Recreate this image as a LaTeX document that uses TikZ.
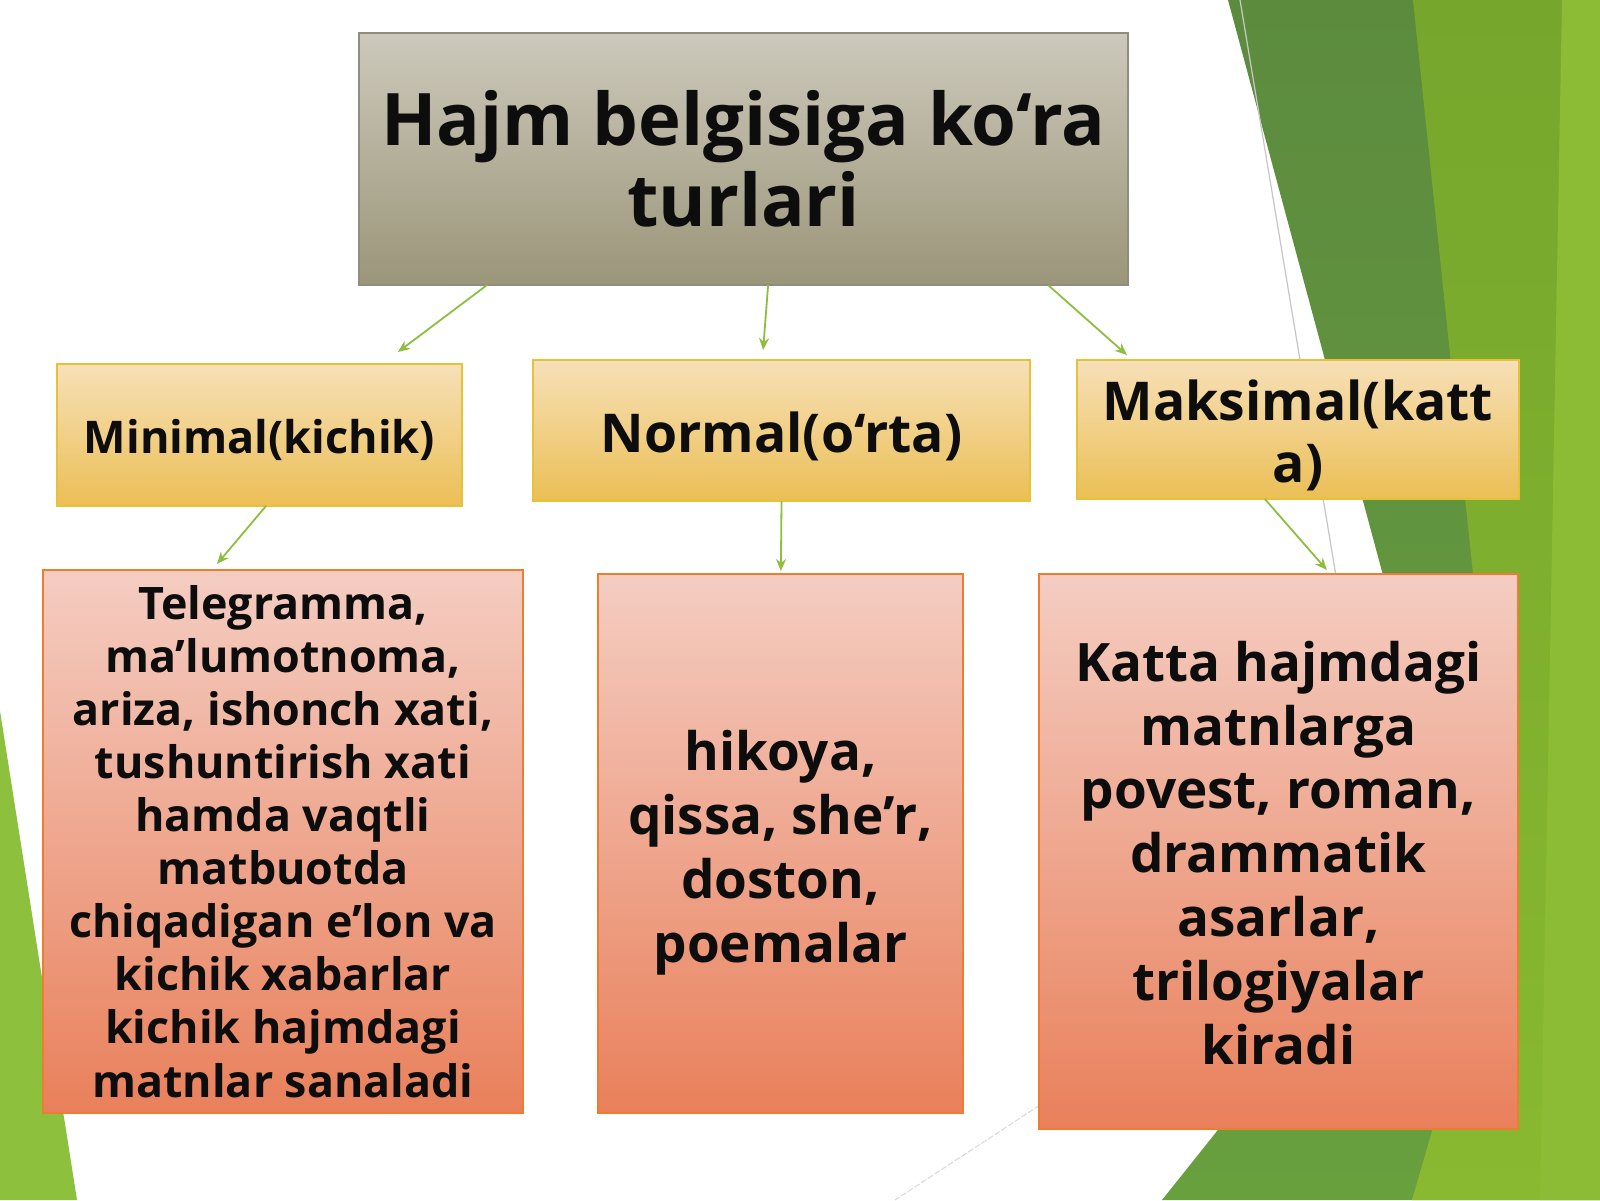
\documentclass[tikz,border=0pt]{standalone}
\usepackage{fontspec}
\IfFontExistsTF{Open Sans Bold}{\setmainfont{Open Sans}[BoldFont={Open Sans Bold}]}{%
  \IfFontExistsTF{OpenSans-Bold}{\setmainfont{Open Sans}[BoldFont={OpenSans-Bold}]}{%
    \setmainfont{DejaVu Sans}}}
\usetikzlibrary{arrows.meta,calc}
\definecolor{titletop}{HTML}{CDC9BB}
\definecolor{titlebot}{HTML}{9B9579}
\definecolor{titleborder}{HTML}{8E8D80}
\definecolor{goldtop}{HTML}{F7E0B8}
\definecolor{goldbot}{HTML}{EBBF55}
\definecolor{goldborder}{HTML}{E6C23A}
\definecolor{redtop}{HTML}{F4CDC2}
\definecolor{redbot}{HTML}{E9805B}
\definecolor{redborder}{HTML}{ED7D31}
\definecolor{arrowgreen}{HTML}{8CBF3F}
\definecolor{gdark}{HTML}{5C8B3E}
\definecolor{gdarkb}{HTML}{68A03E}
\definecolor{gmid}{HTML}{76A62C}
\definecolor{gmidb}{HTML}{88B930}
\definecolor{glight}{HTML}{8CBC36}
\definecolor{gleft}{HTML}{8DC03C}
\definecolor{ink}{HTML}{0D0D0D}
\tikzset{
  box/.style={inner sep=0pt, outer sep=0pt, anchor=north west},
  titlebox/.style={box, draw=titleborder, line width=1.5pt, top color=titletop, bottom color=titlebot},
  goldbox/.style={box, draw=goldborder, line width=2pt, top color=goldtop, bottom color=goldbot},
  redbox/.style={box, draw=redborder, line width=2pt, top color=redtop, bottom color=redbot},
  label/.style={anchor=base, align=center, inner sep=0pt, text=ink},
  arr/.style={draw=arrowgreen, line width=1.8pt, -{Stealth[length=12pt,width=10pt]}},
}
\begin{document}
\begin{tikzpicture}[x=1pt,y=-1pt]
\useasboundingbox (0,0) rectangle (1600,1200);
\fill[white] (0,0) rectangle (1600,1200);
% background green shapes
\shade[top color=gdark, bottom color=gdarkb] (1228,0) -- (1600,0) -- (1600,1200) -- (1162,1200) -- (1453,835) -- cycle;
\shade[top color=gmid, bottom color=gmidb] (1413,0) -- (1600,0) -- (1600,1200) -- (1412,1200) -- (1505,880) -- cycle;
\fill[glight] (1562,0) -- (1600,0) -- (1600,1200) -- (1540,1200) -- cycle;
\fill[gleft] (0,711) -- (77,1200) -- (0,1200) -- cycle;
\draw[black!22, line width=1.2pt] (1240,0) -- (1340,600);
\draw[black!15, line width=1pt, dash pattern=on 6pt off 2pt] (1040,1105) -- (895,1200);
% boxes
\node[titlebox, minimum width=769pt, minimum height=252pt] (title) at (359,33) {};
\node[goldbox, minimum width=405pt, minimum height=142pt] (minimal) at (57,364) {};
\node[goldbox, minimum width=497pt, minimum height=141pt] (normal) at (533,360) {};
\node[goldbox, minimum width=442pt, minimum height=139pt] (maks) at (1077,360) {};
\node[redbox, minimum width=480pt, minimum height=543pt] (tele) at (43,570) {};
\node[redbox, minimum width=365pt, minimum height=539pt] (mid) at (598,574) {};
\node[redbox, minimum width=479pt, minimum height=555pt] (katta) at (1039,574) {};
% texts (anchor = baseline of the last line)
\node[label, font=\fontsize{72.5}{81}\selectfont\bfseries] (titletext) at (743.5,226) {Hajm belgisiga ko‘ra\\turlari};
\node[label, font=\fontsize{45}{54}\selectfont\bfseries] (minimaltext) at (259.5,453) {Minimal(kichik)};
\node[label, font=\fontsize{53.5}{62}\selectfont\bfseries] (normaltext) at (781.5,452) {Normal(o‘rta)};
\node[label, font=\fontsize{53.5}{62}\selectfont\bfseries] (makstext) at (1298,482) {Maksimal(katt\\a)};
\node[label, font=\fontsize{44.8}{53.1}\selectfont\bfseries] (teletext) at (283,1097) {Telegramma,\\ma’lumotnoma,\\ariza, ishonch xati,\\tushuntirish xati\\hamda vaqtli\\matbuotda\\chiqadigan e’lon va\\kichik xabarlar\\kichik hajmdagi\\matnlar sanaladi};
\node[label, font=\fontsize{53}{64}\selectfont\bfseries] (midtext) at (780.5,962) {hikoya,\\qissa, she’r,\\doston,\\poemalar};
\node[label, font=\fontsize{53}{63.8}\selectfont\bfseries] (kattatext) at (1278.5,1064) {Katta hajmdagi\\matnlarga\\povest, roman,\\drammatik\\asarlar,\\trilogiyalar\\kiradi};
% connectors
\draw[arr] ($(title.south west)!0.1665!(title.south east)$) -- ($(minimal.north west)!0.842!(minimal.north east)+(0,-12)$);
\draw[arr] ($(title.south west)!0.532!(title.south east)$) -- ($(normal.north west)!0.463!(normal.north east)+(0,-10)$);
\draw[arr] ($(title.south west)!0.896!(title.south east)$) -- ($(maks.north west)!0.113!(maks.north east)+(0,-5)$);
\draw[arr] ($(minimal.south west)!0.516!(minimal.south east)$) -- ($(tele.north west)!0.3625!(tele.north east)+(0,-6)$);
\draw[arr] ($(normal.south west)!0.5!(normal.south east)$) -- ($(mid.north west)!0.501!(mid.north east)+(0,-3)$);
\draw[arr] ($(maks.south west)!0.425!(maks.south east)$) -- ($(katta.north west)!0.601!(katta.north east)+(0,-4)$);
\end{tikzpicture}
\end{document}
